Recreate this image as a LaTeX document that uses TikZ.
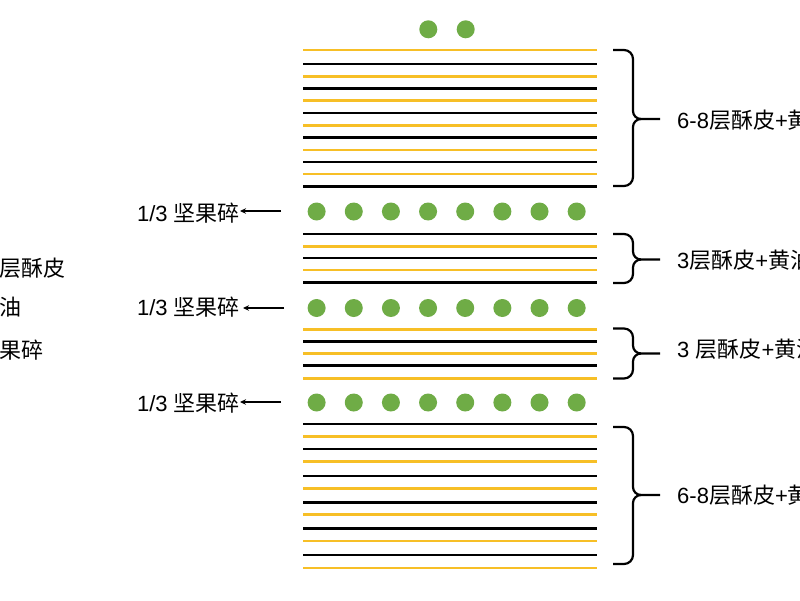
\documentclass[tikz,border=0pt]{standalone}
\usepackage{fontspec}
\setmainfont{Liberation Sans}
\newfontfamily\cjk{Noto Sans CJK SC}
\usetikzlibrary{arrows.meta}
\definecolor{gold}{HTML}{F7BF26}
\definecolor{nutgreen}{HTML}{6FAC46}
\tikzset{
  lab/.style={inner sep=0pt, font=\fontsize{22}{26}\selectfont},
  yline/.style={draw=gold, line width=2.6pt},
  kline/.style={draw=black, line width=2.6pt},
  nut/.style={fill=nutgreen},
  bracestyle/.style={draw=black, line width=2.2pt},
  arr/.style={draw=black, line width=1.5pt, -{Stealth[length=6pt,width=5.5pt]}}
}
\newcommand\mybrace[3]{%
  \draw[bracestyle] (613,#1) -- (624,#1) to[out=0,in=90] (633,#1+9) -- (633,#3-8) to[out=-90,in=180] (641,#3) -- (660,#3);
  \draw[bracestyle] (613,#2) -- (624,#2) to[out=0,in=-90] (633,#2-9) -- (633,#3+8) to[out=90,in=180] (641,#3);
}
\begin{document}
\begin{tikzpicture}[x=1pt,y=-1pt]
\useasboundingbox (0,0) rectangle (800,600);
\clip (0,0) rectangle (800,600);
\fill[white] (0,0) rectangle (800,600);
% top block
\foreach \y [count=\i] in {50,64,76.5,88.5,100.5,113,125.5,137.5,150,162,174,186.5}{
  \ifodd\i \draw[yline] (303,\y) -- (597,\y); \else \draw[kline] (303,\y) -- (597,\y); \fi
}
% middle blocks
\foreach \y [count=\i] in {234,246.5,258,270,282.5,329.5,341.5,353.5,365.5,378.5}{
  \ifodd\i \draw[kline] (303,\y) -- (597,\y); \else \draw[yline] (303,\y) -- (597,\y); \fi
}
% bottom block
\foreach \y [count=\i] in {424,436.5,449,461.5,476,488.5,502.5,514.5,528.5,541,555,568}{
  \ifodd\i \draw[kline] (303,\y) -- (597,\y); \else \draw[yline] (303,\y) -- (597,\y); \fi
}
% nuts
\fill[nut] (428.3,29.3) circle (9);
\fill[nut] (465.7,29.3) circle (9);
\foreach \y in {211.5,308,402.5}{
  \foreach \k in {0,...,7}{
    \fill[nut] (316.6+37.15*\k,\y) circle (9);
  }
}
% braces
\mybrace{50}{186}{119}
\mybrace{234}{283}{259.5}
\mybrace{328.5}{378.5}{353.5}
\mybrace{427}{564}{495}
% right labels
\node[lab,anchor=west] (r1) at (677,120) {6-8{\cjk 层酥皮}+{\cjk 黄油}};
\node[lab,anchor=west] (r2) at (677,260) {3{\cjk 层酥皮}+{\cjk 黄油}};
\node[lab,anchor=west] (r3) at (677,349) {3 {\cjk 层酥皮}+{\cjk 黄油}};
\node[lab,anchor=west] (r4) at (677,495) {6-8{\cjk 层酥皮}+{\cjk 黄油}};
% left nut labels with arrows
\node[lab,anchor=east] (n1) at (240,213) {1/3 {\cjk 坚果碎}};
\node[lab,anchor=east] (n2) at (240,307.5) {1/3 {\cjk 坚果碎}};
\node[lab,anchor=east] (n3) at (240,403.5) {1/3 {\cjk 坚果碎}};
\coordinate (t1) at (281,211);
\coordinate (t2) at (284,308);
\coordinate (t3) at (281,402);
\draw[arr] (t1) -- (n1.east |- t1);
\draw[arr] (t2) -- ([xshift=3pt]n2.east |- t2);
\draw[arr] (t3) -- (n3.east |- t3);
% left legend (cut off)
\node[lab,anchor=west] (l1) at (-1,268) {\cjk 层酥皮};
\node[lab,anchor=west] (l2) at (-1,307.5) {\cjk 油};
\node[lab,anchor=west] (l3) at (-1,350) {\cjk 果碎};
\end{tikzpicture}
\end{document}
